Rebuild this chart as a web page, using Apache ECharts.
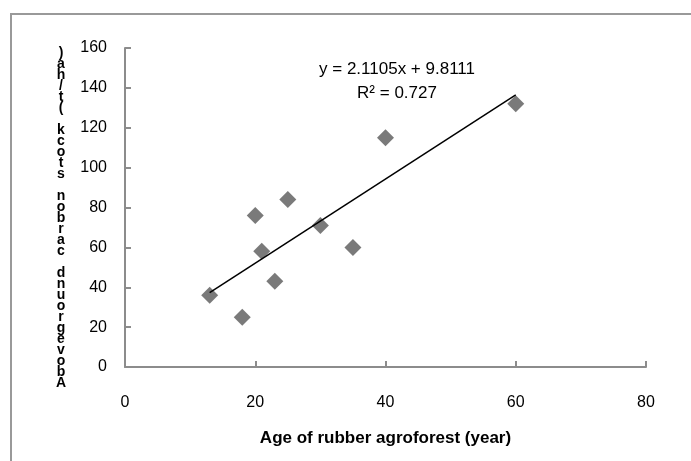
<!DOCTYPE html>
<html>
<head>
<meta charset="utf-8">
<script src="https://cdn.jsdelivr.net/npm/echarts@6/dist/echarts.min.js"></script>
<style>html,body{margin:0;padding:0;background:#fff;}#c{width:691px;height:461px;}</style>
</head>
<body>
<div id="c"></div>
<script>
var ageYears = [13, 18, 20, 21, 23, 25, 30, 35, 40, 60];
var carbonStock = [36, 25, 76, 58, 43, 84, 71, 60, 115, 132];
var slope = 2.1105;
var intercept = 9.8111;
var rSquared = '0.727';
var xTicks = [0, 20, 40, 60, 80];
var yTicks = [0, 20, 40, 60, 80, 100, 120, 140, 160];
var xTitle = 'Age of rubber agroforest (year)';
var yTitle = 'Aboveground carbon stock (t/ha)';

var points = ageYears.map(function (x, i) { return [x, carbonStock[i]]; });
var xMin = Math.min.apply(null, ageYears), xMax = Math.max.apply(null, ageYears);
var trend = [[xMin, slope * xMin + intercept], [xMax, slope * xMax + intercept]];
var stacked = yTitle.split('').reverse().join('\n');

var chart = echarts.init(document.getElementById('c'));
var axisColor = '#8c8c8c';
chart.setOption({
  animation: false,
  backgroundColor: '#fff',
  grid: { left: 125, right: 45, top: 48, bottom: 94 },
  xAxis: {
    type: 'value', min: xTicks[0], max: xTicks[xTicks.length - 1], interval: 20,
    axisLine: { show: true, lineStyle: { color: axisColor, width: 2 } },
    axisTick: { show: true, inside: true, length: 6, lineStyle: { color: axisColor, width: 2 } },
    axisLabel: { color: '#000', fontSize: 16, fontFamily: 'Liberation Sans', margin: 28 },
    splitLine: { show: false },
    name: xTitle, nameLocation: 'middle', nameGap: 63,
    nameTextStyle: { color: '#000', fontSize: 17, fontWeight: 'bold', fontFamily: 'Liberation Sans' }
  },
  yAxis: {
    type: 'value', min: yTicks[0], max: yTicks[yTicks.length - 1], interval: 20,
    axisLine: { show: true, lineStyle: { color: axisColor, width: 2 } },
    axisTick: { show: true, inside: true, length: 6, lineStyle: { color: axisColor, width: 2 } },
    axisLabel: { color: '#000', fontSize: 16, fontFamily: 'Liberation Sans', margin: 18 },
    splitLine: { show: false }
  },
  graphic: [
    { type: 'rect', silent: true, z: -1, shape: { x: 11, y: 14, width: 720, height: 500 }, style: { fill: 'none', stroke: '#999', lineWidth: 2 } },
    { type: 'text', x: 61, y: 218, style: { text: stacked, fontSize: 14, fontWeight: 'bold', lineHeight: 11, fontFamily: 'Liberation Sans', fill: '#000', align: 'center', verticalAlign: 'middle' } },
    { type: 'text', x: 397, y: 69, style: { text: 'y = ' + slope + 'x + ' + intercept, fontSize: 17, fontFamily: 'Liberation Sans', fill: '#000', align: 'center', verticalAlign: 'middle' } },
    { type: 'text', x: 397, y: 93, style: { text: 'R² = ' + rSquared, fontSize: 17, fontFamily: 'Liberation Sans', fill: '#000', align: 'center', verticalAlign: 'middle' } }
  ],
  series: [
    { type: 'line', data: trend, symbol: 'none', lineStyle: { color: '#000', width: 1.5 }, z: 3 },
    { type: 'scatter', data: points, symbol: 'diamond', symbolSize: 17, itemStyle: { color: '#595959' }, z: 2 }
  ]
});
</script>
</body>
</html>
